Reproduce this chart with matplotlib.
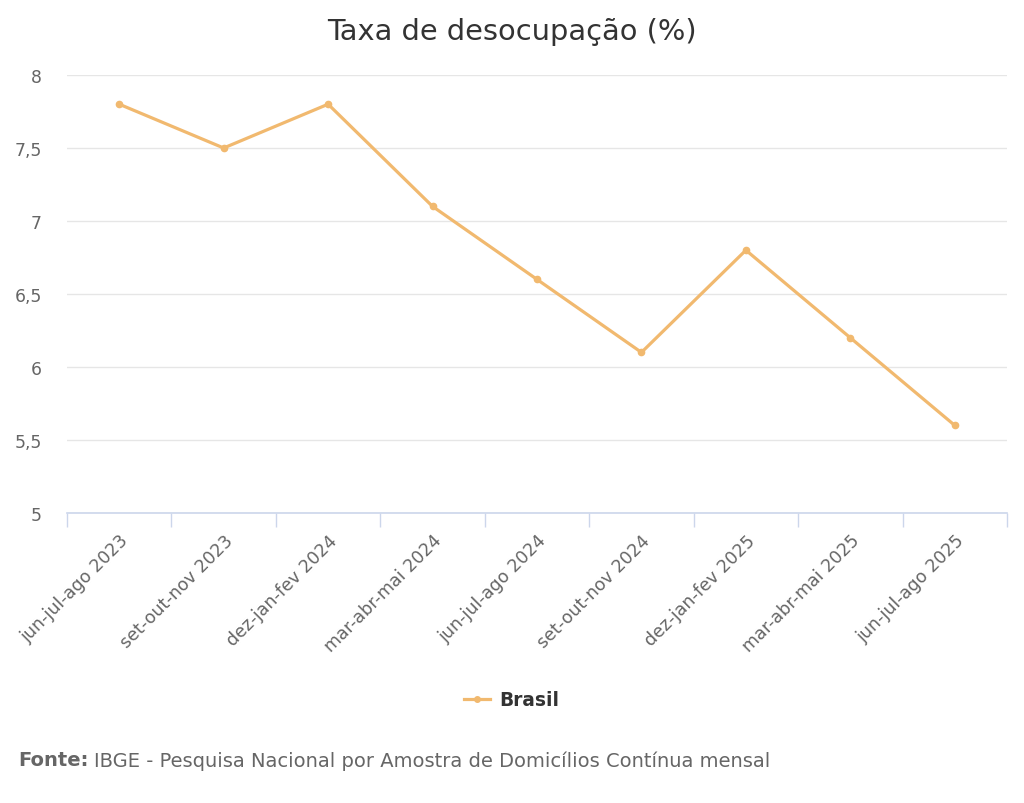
import matplotlib
matplotlib.use("Agg")
import matplotlib.pyplot as plt
from matplotlib.lines import Line2D

plt.rcParams['font.family'] = ['DejaVu Sans']

# Dados
periodos = ["jun-jul-ago 2023", "set-out-nov 2023", "dez-jan-fev 2024",
            "mar-abr-mai 2024", "jun-jul-ago 2024", "set-out-nov 2024",
            "dez-jan-fev 2025", "mar-abr-mai 2025", "jun-jul-ago 2025"]
taxa = [7.8, 7.5, 7.8, 7.1, 6.6, 6.1, 6.8, 6.2, 5.6]
y_ticks = [5, 5.5, 6, 6.5, 7, 7.5, 8]
y_labels = ["5", "5,5", "6", "6,5", "7", "7,5", "8"]

cor = "#f1b96f"

fig = plt.figure(figsize=(10.24, 8.04), dpi=100)
ax = fig.add_axes([67 / 1024, 1 - 514 / 804, 940 / 1024, 438 / 804])

x = list(range(len(periodos)))
ax.plot(x, taxa, color=cor, linewidth=2.3, marker='o', markersize=4.5, zorder=3,
        solid_capstyle='round')

ax.set_xlim(-0.5, len(periodos) - 0.5)
ax.set_ylim(5, 8)
ax.set_yticks(y_ticks)
ax.set_yticklabels(y_labels, fontsize=12.4, color="#666666")
ax.tick_params(axis='y', length=0, pad=18)
ax.grid(axis='y', color="#e6e6e6", linewidth=1)
ax.set_axisbelow(True)

# ticks nos limites das categorias, rótulos no centro
ax.set_xticks([i - 0.5 for i in range(len(periodos) + 1)])
ax.set_xticklabels([])
ax.tick_params(axis='x', which='major', length=10, color="#ccd6eb", width=1)
ax.set_xticks(x, minor=True)
ax.set_xticklabels(periodos, minor=True, rotation=45, ha='right',
                   rotation_mode='anchor', fontsize=12.6, color="#666666")
ax.tick_params(axis='x', which='minor', length=0, pad=13)

for s in ['top', 'right', 'left']:
    ax.spines[s].set_visible(False)
ax.spines['bottom'].set_color("#ccd6eb")
ax.spines['bottom'].set_linewidth(1.2)

fig.text(0.5, 1 - 32 / 804, "Taxa de desocupação (%)", ha='center', va='center',
         fontsize=20.8, color="#333333")

handle = Line2D([], [], color=cor, linewidth=2.3, marker='o', markersize=4)
fig.legend(handles=[handle], labels=["Brasil"], loc='center',
           bbox_to_anchor=(0.5, 1 - 701 / 804), frameon=False,
           prop={'weight': 'bold', 'size': 13.4}, labelcolor="#333333",
           handlelength=1.4, handletextpad=0.5)

fonte = fig.text(18 / 1024, 1 - 761 / 804, "Fonte:", ha='left', va='center',
                 fontsize=14, color="#666666", weight='bold')
fig.canvas.draw()
bb = fonte.get_window_extent()
fig.text((bb.x1 + 6) / 1024, 1 - 761 / 804,
         "IBGE - Pesquisa Nacional por Amostra de Domicílios Contínua mensal",
         ha='left', va='center', fontsize=14, color="#666666")

fig.savefig("out.png", dpi=100, facecolor="white")
